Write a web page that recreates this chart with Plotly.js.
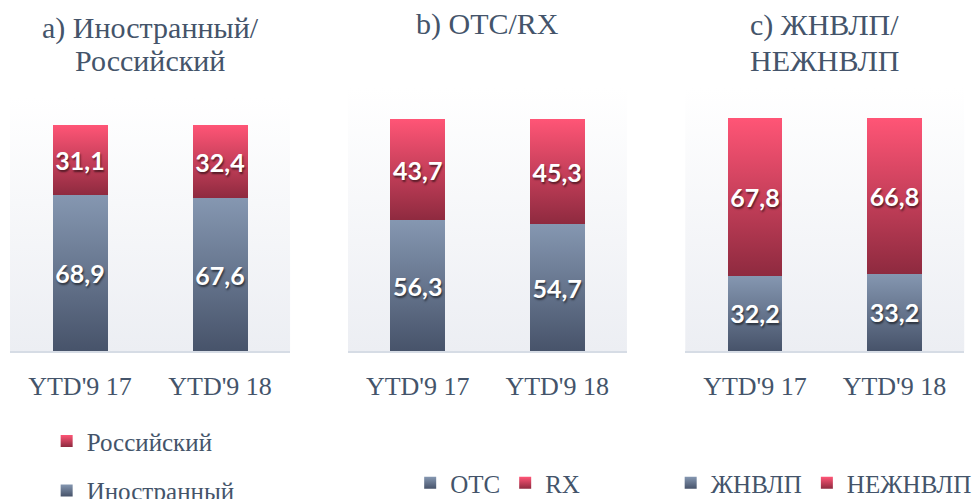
<!DOCTYPE html>
<html>
<head>
<meta charset="utf-8">
<script src="https://cdn.plot.ly/plotly-3.0.1.min.js"></script>
<style>
  html, body { margin: 0; padding: 0; background: #ffffff; }
  #chart { width: 972px; height: 499px; }
</style>
</head>
<body>
<div id="chart"></div>
<script>
// ---- data ----
const categories = ["YTD'9 17", "YTD'9 18"];

const titleLine1 = ["a) Иностранный/", "b) OTC/RX", "c) ЖНВЛП/"];
const titleLine2 = ["Российский", "", "НЕЖНВЛП"];

const foreignNames = ["Иностранный", "OTC", "ЖНВЛП"];
const foreignValues = [
  [68.9, 67.6],
  [56.3, 54.7],
  [32.2, 33.2]
];

const domesticNames = ["Российский", "RX", "НЕЖНВЛП"];
const domesticValues = [
  [31.1, 32.4],
  [43.7, 45.3],
  [67.8, 66.8]
];

// ---- styles ----
const BLUE = 'rgb(107, 123, 149)';
const RED = 'rgb(201, 56, 90)';
const BG = 'rgb(245, 246, 249)';
const TXT = '#44546a';
const SERIF = '"Liberation Serif", "Times New Roman", serif';
const SANS = 'Lato, "Open Sans", sans-serif';

const xDomains = [[0.0103, 0.2984], [0.358, 0.645], [0.705, 0.992]];
const yDomains = [[0.2966, 0.8056], [0.2966, 0.8236], [0.2966, 0.8236]];
const yMax = [112.4, 113.4, 112.9];
const legendIds = ['legend', 'legend2', 'legend3'];
const title1Top = [9, 5, 6];
const title2Top = [42, 42, 42];

const traces = [];
for (let i = 0; i < 3; i++) {
  const xa = i === 0 ? 'x' : 'x' + (i + 1);
  const ya = i === 0 ? 'y' : 'y' + (i + 1);
  const common = {
    type: 'bar', x: categories, xaxis: xa, yaxis: ya,
    texttemplate: '%{y:.1f}', textposition: 'inside', insidetextanchor: 'middle',
    textangle: 0, constraintext: 'none',
    textfont: {family: SANS, size: 25, color: '#ffffff', weight: 700,
               shadow: '1px 2px 2px rgba(0,0,0,0.55)'},
    hoverinfo: 'skip', legend: legendIds[i]
  };
  traces.push(Object.assign({}, common, {
    name: foreignNames[i], y: foreignValues[i],
    marker: {color: BLUE, line: {width: 0}}, legendgroup: 'f' + i,
    legendrank: i === 0 ? 2 : 1
  }));
  traces.push(Object.assign({}, common, {
    name: domesticNames[i], y: domesticValues[i],
    marker: {color: RED, line: {width: 0}}, legendgroup: 'd' + i,
    legendrank: i === 0 ? 1 : 2
  }));
}

const layout = {
  width: 972, height: 499,
  margin: {l: 0, r: 0, t: 0, b: 0, autoexpand: false},
  paper_bgcolor: '#ffffff',
  plot_bgcolor: BG,
  barmode: 'stack',
  bargap: 0.607,
  separators: ', ',
  showlegend: true,
  font: {family: SERIF, color: TXT},
  annotations: [],
  legend: {x: 0.048, y: 0.162, xanchor: 'left', yanchor: 'top', orientation: 'v',
           traceorder: 'grouped', tracegroupgap: 14,
           font: {family: SERIF, size: 25, color: TXT}, bgcolor: 'rgba(0,0,0,0)'},
  legend2: {x: 0.422, y: 0.078, xanchor: 'left', yanchor: 'top', orientation: 'h',
            traceorder: 'normal', font: {family: SERIF, size: 25, color: TXT}, bgcolor: 'rgba(0,0,0,0)'},
  legend3: {x: 0.69, y: 0.078, xanchor: 'left', yanchor: 'top', orientation: 'h',
            traceorder: 'normal', font: {family: SERIF, size: 25, color: TXT}, bgcolor: 'rgba(0,0,0,0)'}
};

for (let i = 0; i < 3; i++) {
  const sx = i === 0 ? '' : String(i + 1);
  layout['xaxis' + sx] = {
    domain: xDomains[i], anchor: 'y' + sx, type: 'category',
    showgrid: false, zeroline: false, ticks: '',
    showline: true, linecolor: '#d6dce5', linewidth: 2,
    tickfont: {family: SERIF, size: 26, color: TXT},
    ticklabelstandoff: 11, fixedrange: true
  };
  layout['yaxis' + sx] = {
    domain: yDomains[i], anchor: 'x' + sx, range: [0, yMax[i]],
    visible: false, showgrid: false, zeroline: false, fixedrange: true
  };
  const cx = (xDomains[i][0] + xDomains[i][1]) / 2;
  layout.annotations.push({
    text: titleLine1[i], xref: 'paper', yref: 'paper',
    x: cx, y: 1 - title1Top[i] / 499,
    xanchor: 'center', yanchor: 'top', showarrow: false, align: 'center',
    font: {family: SERIF, size: 30, color: TXT}
  });
  if (titleLine2[i]) {
    layout.annotations.push({
      text: titleLine2[i], xref: 'paper', yref: 'paper',
      x: cx, y: 1 - title2Top[i] / 499,
      xanchor: 'center', yanchor: 'top', showarrow: false, align: 'center',
      font: {family: SERIF, size: 30, color: TXT}
    });
  }
}

function addGradients(gd) {
  const svg = gd.querySelector('svg.main-svg');
  const NS = 'http://www.w3.org/2000/svg';
  let defs = svg.querySelector('defs#customgrad');
  if (!defs) {
    defs = document.createElementNS(NS, 'defs');
    defs.setAttribute('id', 'customgrad');
    svg.insertBefore(defs, svg.firstChild);
    const grads = {
      gBlue: ['#8597b1', '#47536a'],
      gRed: ['#ff5576', '#8e2a3f'],
      gBg: ['#ffffff', '#eceef3']
    };
    for (const id in grads) {
      const lg = document.createElementNS(NS, 'linearGradient');
      lg.setAttribute('id', id);
      lg.setAttribute('x1', '0'); lg.setAttribute('y1', '0');
      lg.setAttribute('x2', '0'); lg.setAttribute('y2', '1');
      [[0, grads[id][0]], [1, grads[id][1]]].forEach(([o, c]) => {
        const st = document.createElementNS(NS, 'stop');
        st.setAttribute('offset', String(o));
        st.setAttribute('stop-color', c);
        lg.appendChild(st);
      });
      defs.appendChild(lg);
    }
  }
  const norm = s => (s || '').replace(/\s+/g, '');
  gd.querySelectorAll('path, rect').forEach(el => {
    const f = norm(el.style.fill);
    if (f === norm(BLUE)) el.style.fill = 'url(#gBlue)';
    else if (f === norm(RED)) el.style.fill = 'url(#gRed)';
    else if (f === norm(BG)) el.style.fill = 'url(#gBg)';
  });
}

Plotly.newPlot('chart', traces, layout, {displayModeBar: false, staticPlot: true})
  .then(gd => addGradients(gd));
</script>
</body>
</html>
